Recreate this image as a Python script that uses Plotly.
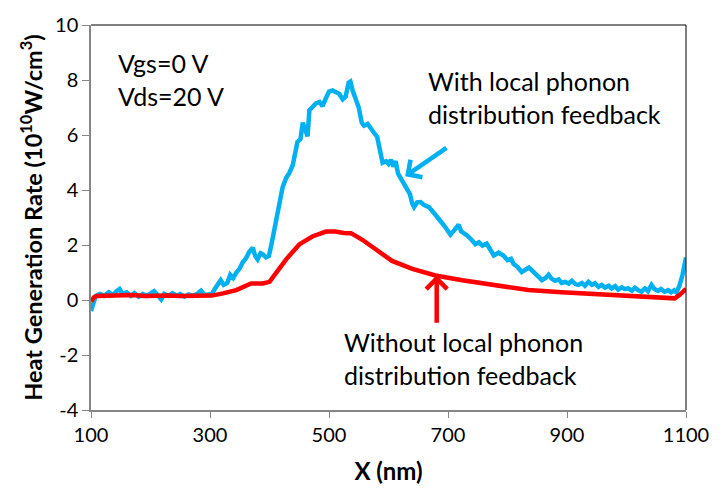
import plotly.graph_objects as go

# ---- data (X in nm, rate in 1e10 W/cm^3) ----
blue_x = [100, 104, 108, 115, 122, 130, 137, 143, 148, 153, 160, 167, 173, 180, 187, 194, 200, 206, 212, 218,
          223, 230, 237, 244, 250, 257, 264, 271, 278, 285, 291, 297, 303, 308, 313, 318, 323, 329, 334, 339,
          345, 350, 355, 360, 366, 372, 376, 380, 385, 389, 394, 399, 404, 408, 413, 417, 422, 428, 433, 439,
          443, 447, 452, 456, 460, 464, 467, 472, 478, 484, 489, 494, 500, 506, 511, 517, 523, 528, 533, 536,
          540, 545, 550, 555, 559, 565, 570, 575, 581, 585, 590, 596, 600, 604, 608, 612, 616, 620, 626, 631,
          636, 640, 643, 648, 654, 660, 668, 675, 682, 690, 697, 704, 711, 718, 722, 726, 732, 739, 746, 752,
          758, 765, 771, 777, 785, 793, 800, 806, 810, 817, 824, 830, 836, 841, 847, 852, 858, 864, 869, 874,
          880, 886, 891, 897, 903, 908, 914, 919, 925, 930, 936, 942, 947, 953, 958, 964, 970, 975, 981, 986,
          992, 997, 1003, 1009, 1014, 1020, 1025, 1031, 1036, 1042, 1047, 1053, 1058, 1064, 1070, 1075, 1080,
          1084, 1089, 1094, 1100]
blue_y = [-0.40, -0.10, 0.15, 0.22, 0.15, 0.28, 0.18, 0.32, 0.40, 0.22, 0.28, 0.15, 0.25, 0.12, 0.22, 0.15,
          0.25, 0.32, 0.18, 0.02, 0.22, 0.15, 0.25, 0.16, 0.22, 0.12, 0.20, 0.15, 0.22, 0.34, 0.18, 0.22,
          0.22, 0.40, 0.55, 0.72, 0.55, 0.62, 0.92, 0.80, 1.02, 1.15, 1.37, 1.50, 1.75, 1.90, 1.60, 1.48,
          1.70, 1.66, 1.55, 1.60, 2.10, 2.55, 3.20, 3.70, 4.10, 4.44, 4.60, 4.90, 5.40, 5.75, 5.85, 6.45,
          6.20, 5.95, 6.90, 7.00, 7.15, 7.20, 7.05, 7.30, 7.58, 7.62, 7.58, 7.50, 7.30, 7.40, 7.90, 7.94,
          7.60, 7.29, 7.00, 6.45, 6.34, 6.40, 6.28, 6.10, 5.93, 5.40, 4.99, 5.05, 4.95, 5.10, 4.85, 5.05,
          4.60, 4.45, 4.20, 4.05, 3.85, 3.50, 3.38, 3.55, 3.56, 3.45, 3.38, 3.20, 2.98, 2.80, 2.60, 2.38,
          2.55, 2.74, 2.50, 2.45, 2.35, 2.20, 2.03, 2.10, 1.98, 2.05, 1.80, 1.62, 1.72, 1.62, 1.45, 1.50,
          1.32, 1.20, 1.02, 1.10, 1.18, 1.08, 0.95, 0.88, 0.72, 0.80, 0.92, 0.78, 0.70, 0.75, 0.62, 0.66,
          0.60, 0.70, 0.58, 0.55, 0.62, 0.52, 0.66, 0.55, 0.61, 0.48, 0.55, 0.45, 0.52, 0.42, 0.50, 0.38,
          0.46, 0.40, 0.42, 0.34, 0.45, 0.35, 0.30, 0.42, 0.32, 0.55, 0.40, 0.33, 0.40, 0.30, 0.36, 0.28,
          0.35, 0.28, 0.52, 0.90, 1.55]

red_x = [100, 105, 110, 130, 150, 170, 190, 210, 230, 250, 270, 290, 303, 322, 344, 369, 389, 400, 411, 428,
         450, 472, 495, 511, 525, 537, 556, 584, 606, 640, 679, 724, 780, 835, 891, 947, 1003, 1059, 1081,
         1089, 1098, 1100]
red_y = [-0.05, 0.10, 0.15, 0.17, 0.16, 0.18, 0.15, 0.17, 0.16, 0.15, 0.16, 0.15, 0.16, 0.24, 0.36, 0.60,
         0.60, 0.66, 1.01, 1.48, 2.02, 2.31, 2.49, 2.49, 2.44, 2.43, 2.19, 1.78, 1.42, 1.13, 0.89, 0.72, 0.54,
         0.36, 0.28, 0.21, 0.15, 0.10, 0.06, 0.18, 0.36, 0.40]

x_ticks = [100, 300, 500, 700, 900, 1100]
y_ticks = [-4, -2, 0, 2, 4, 6, 8, 10]

BLUE = "#00B0F0"
RED = "#FF0000"
FONT = "Lato"

fig = go.Figure()
fig.add_trace(go.Scatter(x=blue_x, y=blue_y, mode="lines", line=dict(color=BLUE, width=4.5), showlegend=False))
fig.add_trace(go.Scatter(x=red_x, y=red_y, mode="lines", line=dict(color=RED, width=4.5), showlegend=False))

# arrows (tail -> tip, data coords)
blue_arrow = dict(tail=(700, 5.57), tip=(628, 4.50))
red_arrow = dict(tail=(681, -0.88), tip=(681, 0.90))
for arr, col in ((blue_arrow, BLUE), (red_arrow, RED)):
    fig.add_annotation(x=arr["tip"][0], y=arr["tip"][1], ax=arr["tail"][0], ay=arr["tail"][1],
                       xref="x", yref="y", axref="x", ayref="y", text="", showarrow=True,
                       arrowhead=4, arrowsize=0.9, arrowwidth=4.5, arrowcolor=col)

txt = dict(xref="paper", yref="paper", showarrow=False, xanchor="left", yanchor="middle",
           font=dict(family=FONT, size=25, color="black"), align="left")
fig.add_annotation(x=(116 - 91.5) / 594.5, y=(411 - 73) / 394, text="Vgs=0 V<br>Vds=20 V", **txt)
fig.add_annotation(x=(426 - 91.5) / 594.5, y=(411 - 91) / 394,
                   text="With local phonon<br>distribution feedback", **txt)
fig.add_annotation(x=(342 - 91.5) / 594.5, y=(411 - 358) / 394,
                   text="Without local phonon<br>distribution feedback", **txt)

# black top/right frame
fig.add_shape(type="line", xref="x domain", yref="y domain", x0=0, x1=1, y0=1, y1=1,
              line=dict(color="black", width=1))
fig.add_shape(type="line", xref="x domain", yref="y domain", x0=1, x1=1, y0=0, y1=1,
              line=dict(color="black", width=1))

fig.update_layout(
    width=728, height=493,
    margin=dict(l=91, r=42, t=17, b=82),
    paper_bgcolor="white", plot_bgcolor="white",
    font=dict(family=FONT, size=20, color="black"),
    xaxis=dict(range=[100, 1100], tickvals=x_ticks, ticktext=[str(v) for v in x_ticks],
               showline=True, linecolor="#868686", linewidth=1.5, ticks="outside", ticklen=6,
               tickcolor="#868686", showgrid=False, zeroline=False,
               title=dict(text="<b>X (nm)</b>", font=dict(family=FONT, size=24), standoff=18)),
    yaxis=dict(range=[-4, 10], tickvals=y_ticks, ticktext=[str(v) for v in y_ticks],
               showline=True, linecolor="#868686", linewidth=1.5, ticks="outside", ticklen=7,
               tickcolor="#868686", showgrid=False, zeroline=False,
               title=dict(text="<b>Heat Generation Rate (10<sup>10</sup>W/cm<sup>3</sup>)</b>",
                          font=dict(family=FONT, size=23.5), standoff=6)),
)

fig.write_html("out.html")
